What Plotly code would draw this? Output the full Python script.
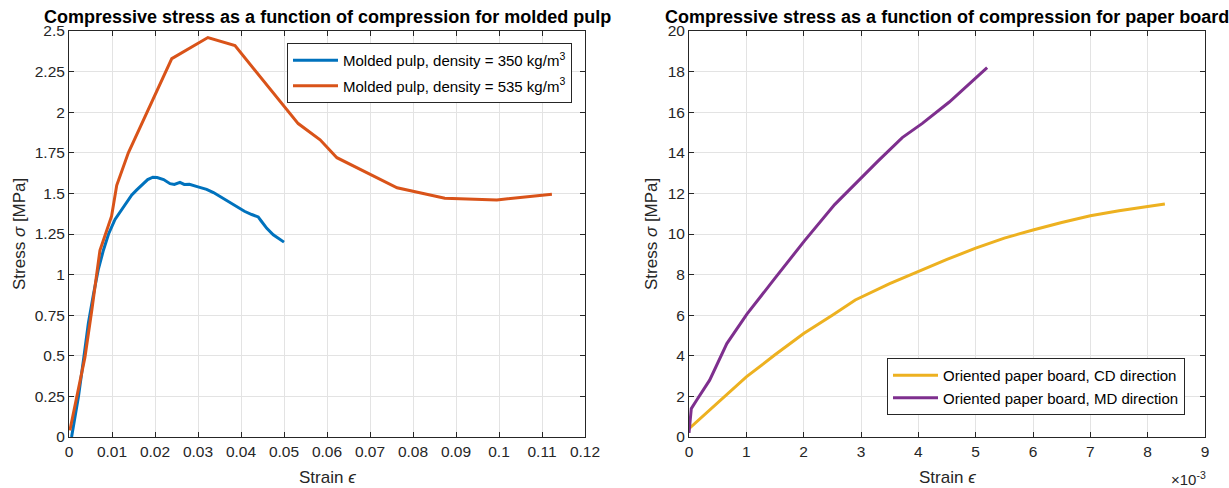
import plotly.graph_objects as go

# ---------------- data ----------------
# Left panel: molded pulp
pulp350_strain = [0.0006, 0.0022, 0.0035, 0.0045, 0.0057, 0.0068, 0.0080, 0.0092, 0.0107, 0.0122,
                  0.0134, 0.0146, 0.0157, 0.0170, 0.0183, 0.0195, 0.0205, 0.0220, 0.0235, 0.0245,
                  0.0258, 0.0268, 0.0280, 0.0300, 0.0320, 0.0336, 0.0351, 0.0367, 0.0382, 0.0395,
                  0.0408, 0.0425, 0.0440, 0.0447, 0.0460, 0.0475, 0.0488, 0.0500]
pulp350_stress = [0.00, 0.25, 0.50, 0.70, 0.88, 1.03, 1.15, 1.25, 1.34, 1.40,
                  1.45, 1.49, 1.52, 1.555, 1.585, 1.600, 1.598, 1.585, 1.56, 1.555,
                  1.568, 1.555, 1.556, 1.54, 1.525, 1.505, 1.48, 1.455, 1.43, 1.41,
                  1.39, 1.37, 1.355, 1.33, 1.285, 1.245, 1.22, 1.20]

pulp535_strain = [0.0002, 0.0037, 0.0053, 0.0072, 0.0099, 0.0111, 0.0138, 0.0239, 0.0323, 0.0386,
                  0.0533, 0.0584, 0.0623, 0.0763, 0.0874, 0.0995, 0.1123]
pulp535_stress = [0.04, 0.49, 0.78, 1.15, 1.36, 1.55, 1.75, 2.33, 2.46, 2.41,
                  1.93, 1.83, 1.72, 1.535, 1.47, 1.46, 1.495]

# Right panel: paper board
cd_strain = [0.0, 0.00050, 0.00100, 0.00150, 0.00200, 0.00250, 0.00290, 0.00350, 0.00400, 0.00450,
             0.00500, 0.00550, 0.00600, 0.00650, 0.00700, 0.00750, 0.00800, 0.00830]
cd_stress = [0.41, 1.70, 2.96, 4.05, 5.10, 6.00, 6.75, 7.55, 8.15, 8.75,
             9.30, 9.80, 10.20, 10.57, 10.90, 11.15, 11.35, 11.48]

md_strain = [0.0, 0.00004, 0.00013, 0.00036, 0.00066, 0.00101, 0.00148, 0.00201, 0.00254, 0.00289,
             0.00330, 0.00372, 0.00407, 0.00454, 0.00520]
md_stress = [0.20, 1.40, 1.80, 2.80, 4.60, 6.05, 7.75, 9.65, 11.45, 12.45,
             13.60, 14.75, 15.45, 16.50, 18.20]

left_xticks = [0, 0.01, 0.02, 0.03, 0.04, 0.05, 0.06, 0.07, 0.08, 0.09, 0.1, 0.11, 0.12]
left_xtext = ["0", "0.01", "0.02", "0.03", "0.04", "0.05", "0.06", "0.07", "0.08", "0.09", "0.1", "0.11", "0.12"]
left_yticks = [0, 0.25, 0.5, 0.75, 1, 1.25, 1.5, 1.75, 2, 2.25, 2.5]
left_ytext = ["0", "0.25", "0.5", "0.75", "1", "1.25", "1.5", "1.75", "2", "2.25", "2.5"]
right_xticks = [0, 0.001, 0.002, 0.003, 0.004, 0.005, 0.006, 0.007, 0.008, 0.009]
right_xtext = ["0", "1", "2", "3", "4", "5", "6", "7", "8", "9"]
right_yticks = [0, 2, 4, 6, 8, 10, 12, 14, 16, 18, 20]
right_ytext = ["0", "2", "4", "6", "8", "10", "12", "14", "16", "18", "20"]

# ---------------- styling ----------------
W, H = 1229, 488
FONT = "Liberation Sans, Arial, Helvetica, sans-serif"
AX = "#262626"
GRID = "#e3e3e3"
BLUE, ORANGE, YELLOW, PURPLE = "#0072BD", "#D95319", "#EDB120", "#7E2F8E"


def px_x(p):
    return p / W


def px_y(p):
    return 1 - p / H


L0, L1 = 69, 585
R0, R1 = 689, 1205
T, B = 31, 437

fig = go.Figure()
fig.add_trace(go.Scatter(x=pulp350_strain, y=pulp350_stress, mode="lines",
                         line=dict(color=BLUE, width=3),
                         name="Molded pulp, density = 350 kg/m<sup>3</sup>",
                         legendgroup="a", xaxis="x", yaxis="y", legend="legend"))
fig.add_trace(go.Scatter(x=pulp535_strain, y=pulp535_stress, mode="lines",
                         line=dict(color=ORANGE, width=3),
                         name="Molded pulp, density = 535 kg/m<sup>3</sup>",
                         legendgroup="b", xaxis="x", yaxis="y", legend="legend"))
fig.add_trace(go.Scatter(x=cd_strain, y=cd_stress, mode="lines",
                         line=dict(color=YELLOW, width=3),
                         name="Oriented paper board, CD direction",
                         legendgroup="c", xaxis="x2", yaxis="y2", legend="legend2"))
fig.add_trace(go.Scatter(x=md_strain, y=md_stress, mode="lines",
                         line=dict(color=PURPLE, width=3),
                         name="Oriented paper board, MD direction",
                         legendgroup="d", xaxis="x2", yaxis="y2", legend="legend2"))

axis_common = dict(showline=True, linecolor=AX, linewidth=1, mirror="ticks",
                   ticks="inside", ticklen=5, tickcolor=AX, tickwidth=1,
                   showgrid=True, gridcolor=GRID, gridwidth=1, zeroline=False,
                   tickfont=dict(family=FONT, size=15.5, color=AX))

legend_common = dict(xanchor="left", yanchor="top", bgcolor="white", bordercolor=AX,
                     borderwidth=1, font=dict(family=FONT, size=15, color="black"),
                     itemwidth=45)

fig.update_layout(
    width=W, height=H,
    margin=dict(l=0, r=0, t=0, b=0, autoexpand=False),
    paper_bgcolor="white", plot_bgcolor="white",
    xaxis=dict(domain=[px_x(L0), px_x(L1)], range=[0, 0.12], anchor="y",
               tickmode="array", tickvals=left_xticks, ticktext=left_xtext, **axis_common),
    yaxis=dict(domain=[px_y(B), px_y(T)], range=[0, 2.5], anchor="x",
               tickmode="array", tickvals=left_yticks, ticktext=left_ytext, **axis_common),
    xaxis2=dict(domain=[px_x(R0), px_x(R1)], range=[0, 0.009], anchor="y2",
                tickmode="array", tickvals=right_xticks, ticktext=right_xtext, **axis_common),
    yaxis2=dict(domain=[px_y(B), px_y(T)], range=[0, 20], anchor="x2",
                tickmode="array", tickvals=right_yticks, ticktext=right_ytext, **axis_common),
    legend=dict(x=px_x(287), y=px_y(43), tracegroupgap=3, **legend_common),
    legend2=dict(x=px_x(887), y=px_y(358), tracegroupgap=0, **legend_common),
    showlegend=True,
)

ann = []
title_font = dict(family=FONT, size=18, color="black")
ann.append(dict(text="<b>Compressive stress as a function of compression for molded pulp</b>",
                x=px_x((L0 + L1) / 2), y=px_y(17), xref="paper", yref="paper",
                xanchor="center", yanchor="middle", showarrow=False, font=title_font))
ann.append(dict(text="<b>Compressive stress as a function of compression for paper board</b>",
                x=px_x((R0 + R1) / 2), y=px_y(17), xref="paper", yref="paper",
                xanchor="center", yanchor="middle", showarrow=False, font=title_font))
lab_font = dict(family=FONT, size=17, color=AX)
for cx in [(L0 + L1) / 2, (R0 + R1) / 2]:
    ann.append(dict(text="Strain <i>ϵ</i>", x=px_x(cx), y=px_y(477), xref="paper", yref="paper",
                    xanchor="center", yanchor="middle", showarrow=False, font=lab_font))
for cy_x in [19, 651]:
    ann.append(dict(text="Stress <i>σ</i> [MPa]", x=px_x(cy_x), y=px_y((T + B) / 2),
                    xref="paper", yref="paper", xanchor="center", yanchor="middle",
                    showarrow=False, textangle=-90, font=lab_font))
ann.append(dict(text="×10<sup>-3</sup>", x=px_x(1208), y=px_y(478), xref="paper", yref="paper",
                xanchor="right", yanchor="middle", showarrow=False,
                font=dict(family=FONT, size=15, color=AX)))
fig.update_layout(annotations=ann)

fig.write_html("out.html",
               config={"displayModeBar": False},
               post_script="document.body.style.margin='0';document.body.style.padding='0';")
